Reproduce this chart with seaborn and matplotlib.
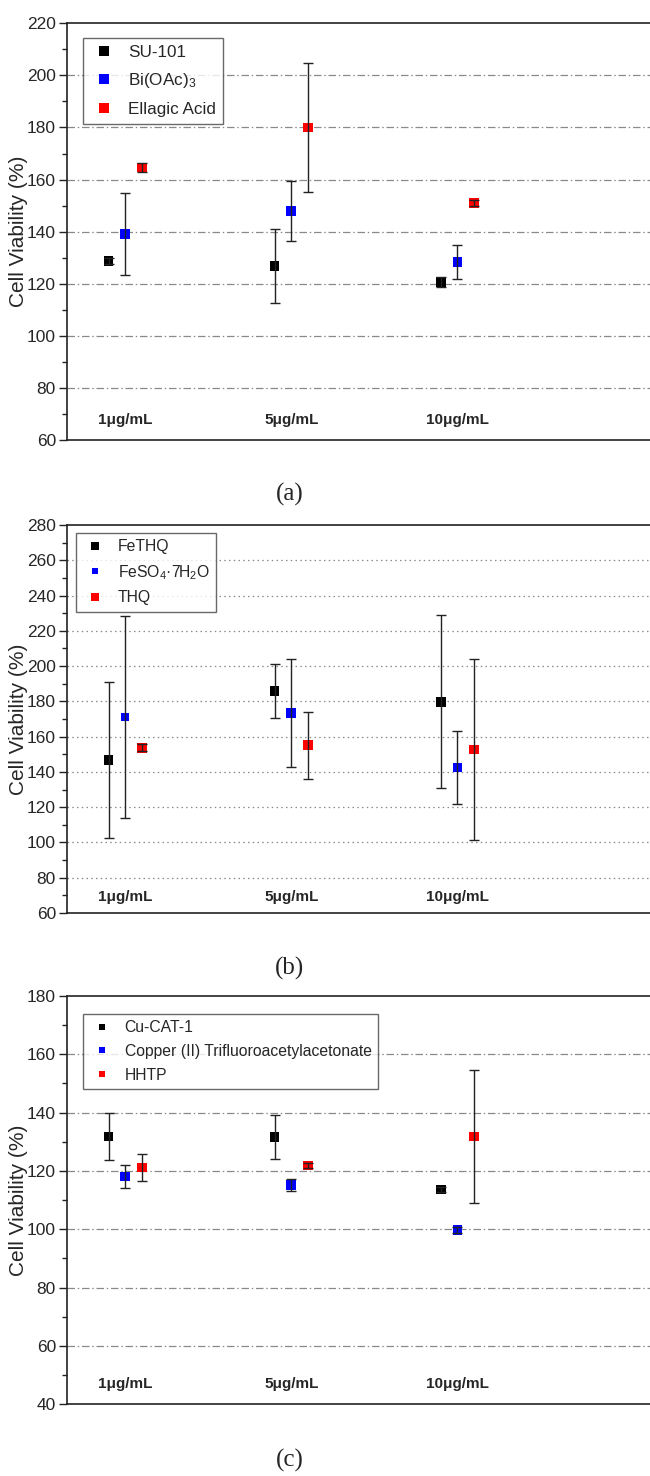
import matplotlib
matplotlib.use("Agg")
import matplotlib.pyplot as plt
import matplotlib.transforms as mtransforms
import seaborn as sns
import pandas as pd
import numpy as np

# ---------------- data ----------------
concentrations = ["1\u03bcg/mL", "5\u03bcg/mL", "10\u03bcg/mL"]

# panel (a)
a_series = ["SU-101", "Bi(OAc)$_3$", "Ellagic Acid"]
a_su101 = [128.7, 126.8, 120.6]
a_su101_err = [1.2, 14.2, 1.8]
a_bioac = [139.0, 148.0, 128.3]
a_bioac_err = [15.7, 11.4, 6.4]
a_ellagic = [164.7, 180.0, 151.1]
a_ellagic_err = [1.8, 24.6, 1.2]

# panel (b)
b_series = ["FeTHQ", "FeSO$_4$\u00b77H$_2$O", "THQ"]
b_fethq = [146.8, 186.0, 179.8]
b_fethq_err = [44.4, 15.2, 49.0]
b_feso4 = [171.1, 173.4, 142.5]
b_feso4_err = [57.5, 30.8, 20.9]
b_thq = [153.6, 155.1, 152.8]
b_thq_err = [2.0, 19.0, 51.4]

# panel (c)
c_series = ["Cu-CAT-1", "Copper (II) Trifluoroacetylacetonate", "HHTP"]
c_cucat = [131.8, 131.6, 113.7]
c_cucat_err = [8.2, 7.6, 0.8]
c_cutfac = [118.1, 115.2, 99.7]
c_cutfac_err = [3.8, 2.0, 1.0]
c_hhtp = [121.2, 121.9, 131.8]
c_hhtp_err = [4.5, 1.0, 22.7]

captions = ["(a)", "(b)", "(c)"]
y_ticks = {"a": (60, 220), "b": (60, 280), "c": (40, 180)}

# ---------------- style ----------------
sns.set_theme(style="white")
sans = ["Liberation Sans", "DejaVu Sans"]
plt.rcParams["font.family"] = sans
plt.rcParams["mathtext.fontset"] = "custom"
plt.rcParams["mathtext.rm"] = "Liberation Sans"
plt.rcParams["mathtext.it"] = "Liberation Sans"
plt.rcParams["mathtext.bf"] = "Liberation Sans:bold"

colors = ["#000000", "#0000ff", "#ff0000"]
offsets = [-0.1, 0.0, 0.1]

W, H = 650, 1476
fig = plt.figure(figsize=(W / 100, H / 100), dpi=100)

panels = [
    dict(key="a", series=a_series,
         vals=[a_su101, a_bioac, a_ellagic],
         errs=[a_su101_err, a_bioac_err, a_ellagic_err],
         top=23.3, bottom=440, grid=(0, (6, 2.2, 1.2, 2.2)),
         leg_xy=(83, 38), leg_fs=12.3, leg_ls=0.68, leg_ms=[1.0, 1.0, 1.0],
         pt_ms=[[1, 1, 1], [1, 1, 1], [1, 1, 1]], lab_off=20),
    dict(key="b", series=b_series,
         vals=[b_fethq, b_feso4, b_thq],
         errs=[b_fethq_err, b_feso4_err, b_thq_err],
         top=525, bottom=913, grid=(0, (1.2, 2.6)),
         leg_xy=(76, 533), leg_fs=11.3, leg_ls=0.55, leg_ms=[0.9, 0.7, 0.9],
         pt_ms=[[1, 1, 1], [0.8, 1, 1], [1, 1, 1]], lab_off=16),
    dict(key="c", series=c_series,
         vals=[c_cucat, c_cutfac, c_hhtp],
         errs=[c_cucat_err, c_cutfac_err, c_hhtp_err],
         top=996, bottom=1404.3, grid=(0, (6, 2.2, 1.2, 2.2)),
         leg_xy=(83, 1014), leg_fs=11.3, leg_ls=0.55, leg_ms=[0.75, 0.75, 0.75],
         pt_ms=[[1, 1, 1], [1, 1, 1], [1, 1, 1]], lab_off=20),
]

left_px = 67
cap_y = [494, 968, 1460]

for pi, p in enumerate(panels):
    ax = fig.add_axes([left_px / W, 1 - p["bottom"] / H,
                       (W - left_px) / W, (p["bottom"] - p["top"]) / H])
    rows = []
    for si, name in enumerate(p["series"]):
        for ci, conc in enumerate(concentrations):
            rows.append(dict(series=name, conc=conc, ci=ci,
                             x=ci + offsets[si],
                             value=p["vals"][si][ci],
                             err=p["errs"][si][ci],
                             size=p["pt_ms"][si][ci]))
    df = pd.DataFrame(rows)

    base_s = 48
    sns.scatterplot(data=df, x="x", y="value", hue="series",
                    hue_order=p["series"], palette=colors, marker="s",
                    size="size", sizes={0.8: base_s * 0.6, 1: base_s},
                    linewidth=0, ax=ax, legend=False, zorder=3)
    ax.errorbar(df["x"], df["value"], yerr=df["err"], fmt="none",
                ecolor="#222222", elinewidth=1.0, capsize=3.6,
                capthick=1.0, zorder=4)

    ymin, ymax = y_ticks[p["key"]]
    ax.set_ylim(ymin, ymax)
    ax.set_xlim(-0.35, 3.16)
    ax.set_yticks(np.arange(ymin, ymax + 1, 20))
    ax.set_yticks(np.arange(ymin, ymax + 1, 10), minor=True)
    ax.set_xticks([])
    ax.set_xlabel("")
    ax.set_ylabel("Cell Viability (%)", fontsize=15)
    ax.yaxis.set_label_coords(-(67 - 28) / (W - left_px), 0.5)
    ax.tick_params(axis="y", which="major", direction="out", length=6,
                   width=1.0, labelsize=12.5, pad=2, left=True,
                   color="#222222")
    ax.tick_params(axis="y", which="minor", direction="out", length=3.5,
                   width=1.0, left=True, color="#222222")
    for s in ["left", "top", "bottom"]:
        ax.spines[s].set_linewidth(1.2)
        ax.spines[s].set_color("#222222")
    ax.spines["right"].set_visible(False)

    for gy in np.arange(ymin + 20, ymax, 20):
        ax.axhline(gy, color="#8a8a8a", lw=0.9, linestyle=p["grid"], zorder=1)

    # category labels
    trans = mtransforms.blended_transform_factory(ax.transData, ax.transAxes)
    lab_y = p["lab_off"] / (p["bottom"] - p["top"])
    for ci, conc in enumerate(concentrations):
        ax.text(ci, lab_y, conc, transform=trans, ha="center", va="center",
                fontsize=11, fontweight="bold")

    # legend
    handles = [plt.Line2D([], [], marker="s", linestyle="none",
                          markersize=6.5 * p["leg_ms"][i], color=colors[i],
                          markeredgewidth=0)
               for i in range(3)]
    lx = (p["leg_xy"][0] - left_px) / (W - left_px)
    ly = 1 - (p["leg_xy"][1] - p["top"]) / (p["bottom"] - p["top"])
    leg = ax.legend(handles, p["series"], loc="upper left",
                    bbox_to_anchor=(lx, ly), fontsize=p["leg_fs"],
                    frameon=True, fancybox=False, borderpad=0.4,
                    handletextpad=0.65, handlelength=1.6,
                    labelspacing=p["leg_ls"], borderaxespad=0)
    leg.get_frame().set_edgecolor("#444444")
    leg.get_frame().set_linewidth(1.0)

    fig.text(290 / W, 1 - cap_y[pi] / H, captions[pi], ha="center",
             va="center", fontsize=18,
             family=["Liberation Serif", "DejaVu Serif"])

fig.savefig("out.png", dpi=100)
